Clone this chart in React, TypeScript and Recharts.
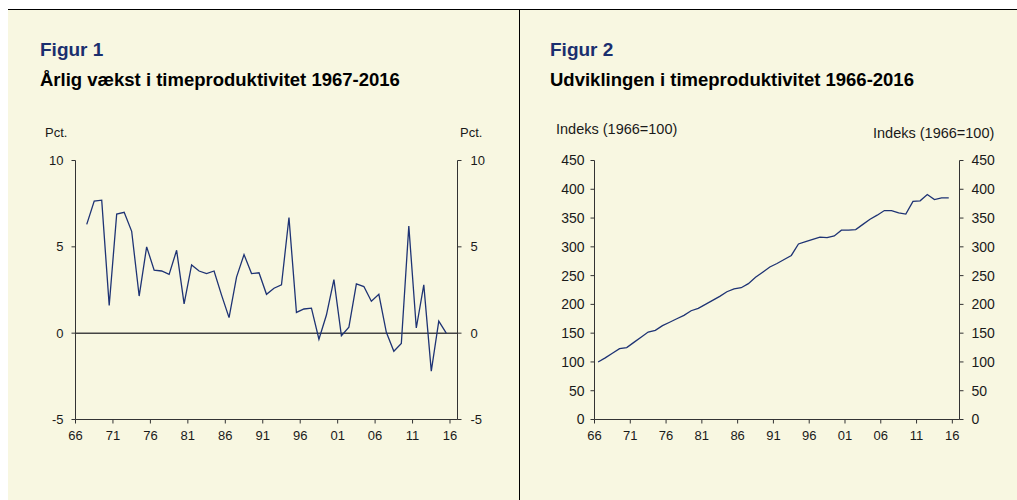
import React from "react";
import {
  LineChart,
  Line,
  XAxis,
  YAxis,
  ReferenceLine,
} from "recharts";

// Figur 1: annual growth in hourly productivity, pct. (1967-2015 plotted)
const growthStartYear = 1967;
const growthValues = [
  6.3, 7.65, 7.7, 1.6, 6.9, 7.0, 5.9, 2.15, 5.0, 3.65,
  3.6, 3.4, 4.8, 1.7, 3.95, 3.6, 3.45, 3.6, 2.2, 0.9,
  3.25, 4.55, 3.45, 3.5, 2.25, 2.6, 2.8, 6.7, 1.2, 1.4,
  1.45, -0.35, 1.05, 3.1, -0.15, 0.35, 2.85, 2.7, 1.85, 2.25,
  0.05, -1.05, -0.6, 6.2, 0.3, 2.8, -2.2, 0.7, 0.0,
];

// Figur 2: index of hourly productivity (1966=100)
const indexStartYear = 1966;
const indexValues = [
  100, 107, 115, 123, 125, 134, 143, 152, 155, 163,
  169, 175, 181, 189, 193, 200, 207, 214, 222, 227,
  229, 236, 247, 256, 265, 271, 278, 285, 305, 309,
  313, 317, 316, 319, 329, 329, 330, 339, 348, 355,
  363, 363, 359, 357, 379, 380, 391, 382, 385, 385,
];

const yearTicks = [1966, 1971, 1976, 1981, 1986, 1991, 1996, 2001, 2006, 2011, 2016];
const growthTicks = [-5, 0, 5, 10];
const indexTicks = [0, 50, 100, 150, 200, 250, 300, 350, 400, 450];

// Excel-style category axis: each year sits in the middle of its slot
const growthData = growthValues.map((v, i) => ({ x: growthStartYear + i + 0.5, v }));
const indexData = indexValues.map((v, i) => ({ x: indexStartYear + i + 0.5, v }));

const BG = "#F8F7E1";
const NAVY = "#1B2F6E";
const LINE = "#1E3374";
const AXIS = "#333333";
const FONT = "'Liberation Sans', Arial, sans-serif";

const tick13 = { fontSize: 13, fill: "#1a1a1a", fontFamily: FONT };
const tick14 = { fontSize: 14, fill: "#1a1a1a", fontFamily: FONT };
const fmtYear = (v: number) => String(v).slice(2);

const text = (
  left: number,
  top: number,
  size: number,
  content: string,
  opts: { bold?: boolean; color?: string } = {}
) => (
  <div
    style={{
      position: "absolute",
      left,
      top,
      fontSize: size,
      lineHeight: 1,
      fontWeight: opts.bold ? "bold" : "normal",
      color: opts.color || "#1a1a1a",
      whiteSpace: "nowrap",
    }}
  >
    {content}
  </div>
);

const axisCommon = {
  interval: 0 as const,
  tickSize: 4,
  axisLine: { stroke: AXIS },
  tickLine: { stroke: AXIS },
};

export default function App() {
  return (
    <div
      style={{
        position: "absolute",
        left: 0,
        top: 0,
        width: 1017,
        height: 500,
        background: "#fff",
        fontFamily: FONT,
        overflow: "hidden",
      }}
    >
      {/* panel background and frame */}
      <div
        style={{
          position: "absolute",
          left: 8,
          top: 9,
          width: 1009,
          height: 491,
          background: BG,
          borderTop: "1px solid #000",
        }}
      />
      <div
        style={{
          position: "absolute",
          left: 519,
          top: 9,
          width: 1,
          height: 491,
          background: "#000",
        }}
      />

      {/* Figur 1 */}
      {text(40, 40, 19, "Figur 1", { bold: true, color: NAVY })}
      {text(40, 71, 18.5, "Årlig vækst i timeproduktivitet 1967-2016", { bold: true, color: "#000" })}
      {text(45, 126, 13, "Pct.")}
      {text(460, 126, 13, "Pct.")}
      <div style={{ position: "absolute", left: 0, top: 0 }}>
        <LineChart
          width={519}
          height={500}
          data={growthData}
          margin={{ top: 160.5, right: 31.5, bottom: 50.5, left: 45.5 }}
        >
          <XAxis
            {...axisCommon}
            type="number"
            dataKey="x"
            domain={[1966, 2017]}
            ticks={yearTicks}
            tickFormatter={fmtYear}
            height={30}
            tickMargin={7}
            tick={tick13}
          />
          <YAxis
            {...axisCommon}
            yAxisId="left"
            domain={[-5, 10]}
            ticks={growthTicks}
            width={30}
            tickMargin={8}
            tick={tick13}
          />
          <YAxis
            {...axisCommon}
            yAxisId="right"
            orientation="right"
            domain={[-5, 10]}
            ticks={growthTicks}
            width={30}
            tickMargin={9}
            tick={tick13}
          />
          <ReferenceLine yAxisId="left" y={0} stroke="#444" strokeWidth={1.5} />
          {/* invisible twin so the right-hand axis gets drawn */}
          <Line
            yAxisId="right"
            dataKey="v"
            stroke="none"
            dot={false}
            activeDot={false}
            isAnimationActive={false}
          />
          <Line
            yAxisId="left"
            type="linear"
            dataKey="v"
            stroke={LINE}
            strokeWidth={1.3}
            dot={false}
            isAnimationActive={false}
          />
        </LineChart>
      </div>

      {/* Figur 2 */}
      {text(550, 40, 19, "Figur 2", { bold: true, color: NAVY })}
      {text(550, 71, 18.5, "Udviklingen i timeproduktivitet 1966-2016", { bold: true, color: "#000" })}
      {text(556, 122, 14.5, "Indeks (1966=100)")}
      {text(873, 126, 14.5, "Indeks (1966=100)")}
      <div style={{ position: "absolute", left: 519, top: 0 }}>
        <LineChart
          width={498}
          height={500}
          data={indexData}
          margin={{ top: 160.5, right: 12.5, bottom: 50.5, left: 30.5 }}
        >
          <XAxis
            {...axisCommon}
            type="number"
            dataKey="x"
            domain={[1966, 2017]}
            ticks={yearTicks}
            tickFormatter={fmtYear}
            height={30}
            tickMargin={7}
            tick={tick13}
          />
          <YAxis
            {...axisCommon}
            yAxisId="left"
            domain={[0, 450]}
            ticks={indexTicks}
            width={45}
            tickMargin={6}
            tick={tick14}
          />
          <YAxis
            {...axisCommon}
            yAxisId="right"
            orientation="right"
            domain={[0, 450]}
            ticks={indexTicks}
            width={45}
            tickMargin={8}
            tick={tick14}
          />
          <Line
            yAxisId="right"
            dataKey="v"
            stroke="none"
            dot={false}
            activeDot={false}
            isAnimationActive={false}
          />
          <Line
            yAxisId="left"
            type="linear"
            dataKey="v"
            stroke={LINE}
            strokeWidth={1.3}
            dot={false}
            isAnimationActive={false}
          />
        </LineChart>
      </div>
    </div>
  );
}
